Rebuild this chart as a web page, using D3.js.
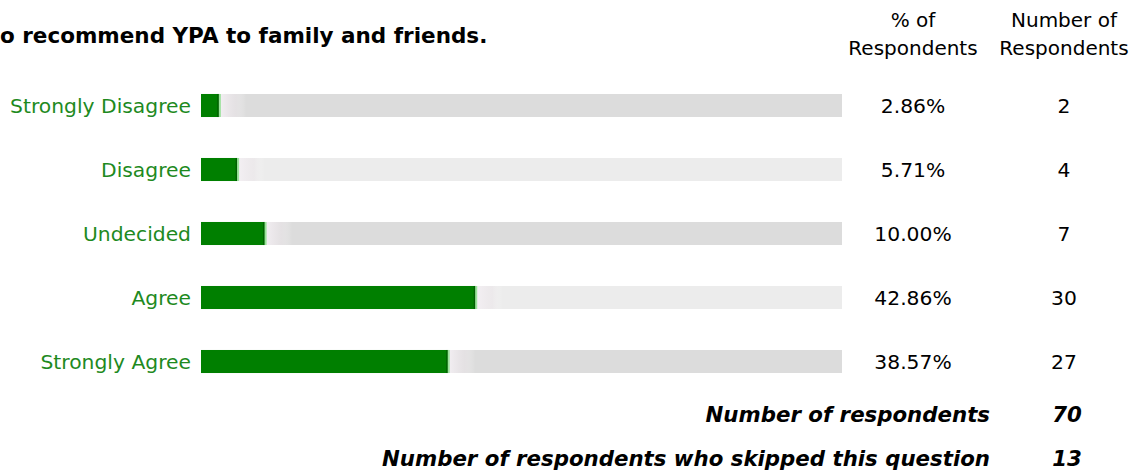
<!DOCTYPE html>
<html>
<head>
<meta charset="utf-8">
<script src="https://cdn.jsdelivr.net/npm/d3@7"></script>
<style>
  html, body { margin: 0; padding: 0; background: #fff; }
  svg { display: block; }
</style>
</head>
<body>
<svg id="chart" width="1148" height="473"></svg>
<script>
const title = "o recommend YPA to family and friends.";
const categories = ["Strongly Disagree", "Disagree", "Undecided", "Agree", "Strongly Agree"];
const percents = [2.86, 5.71, 10.00, 42.86, 38.57];
const counts = [2, 4, 7, 30, 27];
const percentLabels = ["2.86%", "5.71%", "10.00%", "42.86%", "38.57%"];
const headerPct = ["% of", "Respondents"];
const headerNum = ["Number of", "Respondents"];
const summaryLabels = ["Number of respondents", "Number of respondents who skipped this question"];
const summaryValues = [70, 13];

const FONT = "'DejaVu Sans', Verdana, sans-serif";
const svg = d3.select("#chart");

const defs = svg.append("defs");
const grad = defs.append("linearGradient").attr("id", "fade").attr("x1", 0).attr("x2", 1).attr("y1", 0).attr("y2", 0);
grad.append("stop").attr("offset", "0%").attr("stop-color", "#f4f0f4").attr("stop-opacity", 0.9);
grad.append("stop").attr("offset", "60%").attr("stop-color", "#ece6ea").attr("stop-opacity", 0.5);
grad.append("stop").attr("offset", "100%").attr("stop-color", "#ffffff").attr("stop-opacity", 0);

const x = d3.scaleLinear().domain([0, 100]).range([201, 842]);
const y = d3.scaleBand().domain(categories).range([73.5, 393.5]).paddingInner(0.64).paddingOuter(0.32);

// title
svg.append("text")
  .attr("x", 0).attr("y", 43)
  .attr("font-family", FONT).attr("font-weight", "bold").attr("font-size", 21.5)
  .attr("fill", "#000")
  .text(title);

// headers
const pctX = 913, numX = 1064;
[[pctX, headerPct], [numX, headerNum]].forEach(([cx, lines]) => {
  svg.append("g").selectAll("text").data(lines).join("text")
    .attr("x", cx).attr("y", (d, i) => 27 + i * 28)
    .attr("text-anchor", "middle")
    .attr("font-family", FONT).attr("font-size", 20)
    .attr("fill", "#000")
    .text(d => d);
});

const rows = svg.append("g").selectAll("g").data(categories).join("g");

// tracks
rows.append("rect")
  .attr("x", x(0)).attr("y", d => y(d))
  .attr("width", x(100) - x(0)).attr("height", y.bandwidth())
  .attr("fill", (d, i) => i % 2 === 0 ? "#dcdcdc" : "#ececec");

// soft fade after bar end
rows.append("rect")
  .attr("x", (d, i) => x(percents[i]) + 1).attr("y", d => y(d))
  .attr("width", 26).attr("height", y.bandwidth())
  .attr("fill", "url(#fade)");

// green bars
rows.append("rect")
  .attr("x", x(0)).attr("y", d => y(d))
  .attr("width", (d, i) => x(percents[i]) - x(0)).attr("height", y.bandwidth())
  .attr("fill", "#007f00");

// bar edge highlight
rows.append("rect")
  .attr("x", (d, i) => x(percents[i]) - 2).attr("y", d => y(d))
  .attr("width", 1.5).attr("height", y.bandwidth())
  .attr("fill", "#005f00");
rows.append("rect")
  .attr("x", (d, i) => x(percents[i]) - 0.5).attr("y", d => y(d))
  .attr("width", 2).attr("height", y.bandwidth())
  .attr("fill", "#9be39b");

// category labels
rows.append("text")
  .attr("x", 191).attr("y", d => y(d) + y.bandwidth() / 2 + 7.5)
  .attr("text-anchor", "end")
  .attr("font-family", FONT).attr("font-size", 20.3)
  .attr("fill", "#1e8a1e")
  .text(d => d);

// percent values
rows.append("text")
  .attr("x", pctX).attr("y", d => y(d) + y.bandwidth() / 2 + 7.5)
  .attr("text-anchor", "middle")
  .attr("font-family", FONT).attr("font-size", 20.3)
  .attr("fill", "#000")
  .text((d, i) => percentLabels[i]);

// counts
rows.append("text")
  .attr("x", numX).attr("y", d => y(d) + y.bandwidth() / 2 + 7.5)
  .attr("text-anchor", "middle")
  .attr("font-family", FONT).attr("font-size", 20.3)
  .attr("fill", "#000")
  .text((d, i) => counts[i]);

// summary
const sum = svg.append("g").selectAll("g").data(summaryLabels).join("g");
sum.append("text")
  .attr("x", 990).attr("y", (d, i) => 422 + i * 44)
  .attr("text-anchor", "end")
  .attr("font-family", FONT).attr("font-weight", "bold").attr("font-style", "italic")
  .attr("font-size", 21.3).attr("fill", "#000")
  .text(d => d);
sum.append("text")
  .attr("x", 1067).attr("y", (d, i) => 422 + i * 44)
  .attr("text-anchor", "middle")
  .attr("font-family", FONT).attr("font-weight", "bold").attr("font-style", "italic")
  .attr("font-size", 21.3).attr("fill", "#000")
  .text((d, i) => summaryValues[i]);
</script>
</body>
</html>
